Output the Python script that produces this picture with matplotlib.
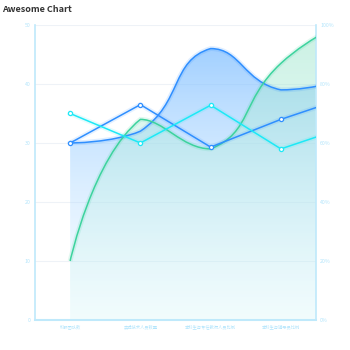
import numpy as np
import matplotlib
matplotlib.use('Agg')
import matplotlib.pyplot as plt
from matplotlib.path import Path
from matplotlib.patches import PathPatch
from matplotlib.colors import LinearSegmentedColormap

plt.rcParams['font.family'] = ['Noto Sans CJK SC', 'DejaVu Sans']

# 数据
categories = ['科研团队数', '实验技术人员数量', '本科生与专任教师人员比例', '本科生与辅导员比例', '']
blue_area = [30, 32, 46, 39, 41]
green_area = [10, 34, 29, 43.5, 51]
blue_line = [30, 36.5, 29.3, 34, 38]
cyan_line = [35, 30, 36.4, 29, 33]
left_ticks = [0, 10, 20, 30, 40, 50]
right_ticks = ['0%', '20%', '40%', '60%', '80%', '100%']

tick_color = '#b3e5fc'
axis_color = '#bfe9fb'

fig = plt.figure(figsize=(3.5, 3.5), dpi=100)
ax = fig.add_axes([0.1, 0.0857, 0.803, 0.843])
ax.set_xlim(-0.5, 3.5)
ax.set_ylim(0, 50)


def smooth_path(xs, ys, smooth=0.5):
    # echarts 风格的平滑曲线, 在像素坐标里算控制点
    pts = ax.transData.transform(np.column_stack([xs, ys]))
    n = len(pts)
    verts = [pts[0]]
    codes = [Path.MOVETO]
    cp0 = pts[0]
    for i in range(1, n):
        cur = pts[i]
        prev = pts[i - 1]
        if i < n - 1:
            nxt = pts[i + 1]
            v = nxt - prev
            l0 = np.hypot(*(cur - prev))
            l1 = np.hypot(*(nxt - cur))
            r = l1 / (l0 + l1)
            ncp0 = cur - v * smooth * (1 - r)
            ncp1 = cur + v * smooth * r
            ncp0 = np.clip(ncp0, np.minimum(cur, prev), np.maximum(cur, prev))
            ncp1 = np.clip(ncp1, np.minimum(cur, nxt), np.maximum(cur, nxt))
        else:
            ncp0 = cur
            ncp1 = cur
        verts += [cp0, ncp0, cur]
        codes += [Path.CURVE4] * 3
        cp0 = ncp1
    inv = ax.transData.inverted()
    return np.array(inv.transform(np.array(verts))), codes


def gradient_fill(xs, ys, top, bottom):
    verts, codes = smooth_path(xs, ys)
    fill_v = np.vstack([verts, [[xs[-1], 0], [xs[0], 0], verts[0]]])
    fill_c = codes + [Path.LINETO, Path.LINETO, Path.CLOSEPOLY]
    patch = PathPatch(Path(fill_v, fill_c), facecolor='none', edgecolor='none')
    ax.add_patch(patch)
    cmap = LinearSegmentedColormap.from_list('g', [bottom, top])
    grad = np.linspace(0, 1, 256).reshape(-1, 1)
    im = ax.imshow(grad, cmap=cmap, aspect='auto', origin='lower',
                   extent=[-0.5, 4.5, 0, 50], zorder=1, interpolation='bicubic')
    im.set_clip_path(patch)
    return Path(verts, codes)


# 网格
for t in left_ticks:
    ax.axhline(t, color='#eef2f7', lw=0.8, zorder=0)

ax.set_xlim(-0.5, 3.5)
ax.set_ylim(0, 50)
x = np.arange(len(categories))

blue_path = gradient_fill(x, blue_area, (0.45, 0.72, 1.0, 0.75), (0.85, 0.95, 1.0, 0.15))
green_path = gradient_fill(x, green_area, (0.62, 0.90, 0.80, 0.55), (0.80, 0.97, 0.95, 0.15))
ax.set_xlim(-0.5, 3.5)
ax.set_ylim(0, 50)

for p, c in [(blue_path, '#2f8fff'), (green_path, '#3dd39e')]:
    ax.add_patch(PathPatch(p, facecolor='none', edgecolor=c, lw=3.5, alpha=0.15, zorder=3))
    ax.add_patch(PathPatch(p, facecolor='none', edgecolor=c, lw=1.1, zorder=4))

ax.plot(x, blue_line, color='#2f8fff', lw=3.5, alpha=0.12, zorder=4)
ax.plot(x, blue_line, color='#2f8fff', lw=1.1, marker='o', ms=3.0,
        mfc='white', mec='#2f8fff', mew=0.9, zorder=5)
ax.plot(x, cyan_line, color='#1de9f6', lw=3.5, alpha=0.12, zorder=4)
ax.plot(x, cyan_line, color='#1de9f6', lw=1.1, marker='o', ms=3.0,
        mfc='white', mec='#1de9f6', mew=0.9, zorder=5)

# 坐标轴
ax.set_xticks(range(4))
ax.set_xticklabels(categories[:4], fontsize=3.1, color=tick_color)
ax.set_yticks(left_ticks)
ax.set_yticklabels([str(t) for t in left_ticks], fontsize=3.8, color=tick_color)
ax.tick_params(length=0, pad=3)
ax.spines['top'].set_visible(False)
ax.spines['left'].set_color(axis_color)
ax.spines['left'].set_linewidth(1.2)
ax.spines['bottom'].set_color(axis_color)
ax.spines['bottom'].set_linewidth(1.5)
ax.spines['right'].set_color(axis_color)
ax.spines['right'].set_linewidth(1.2)

ax2 = ax.twinx()
ax2.set_ylim(0, 100)
ax2.set_yticks([0, 20, 40, 60, 80, 100])
ax2.set_yticklabels(right_ticks, fontsize=3.8, color=tick_color)
ax2.tick_params(length=0, pad=3)
for s in ax2.spines.values():
    s.set_visible(False)

fig.text(0.006, 0.985, 'Awesome Chart', fontsize=6.5, fontweight='bold',
         color='#333333', ha='left', va='top')

fig.savefig('out.png', dpi=100)
